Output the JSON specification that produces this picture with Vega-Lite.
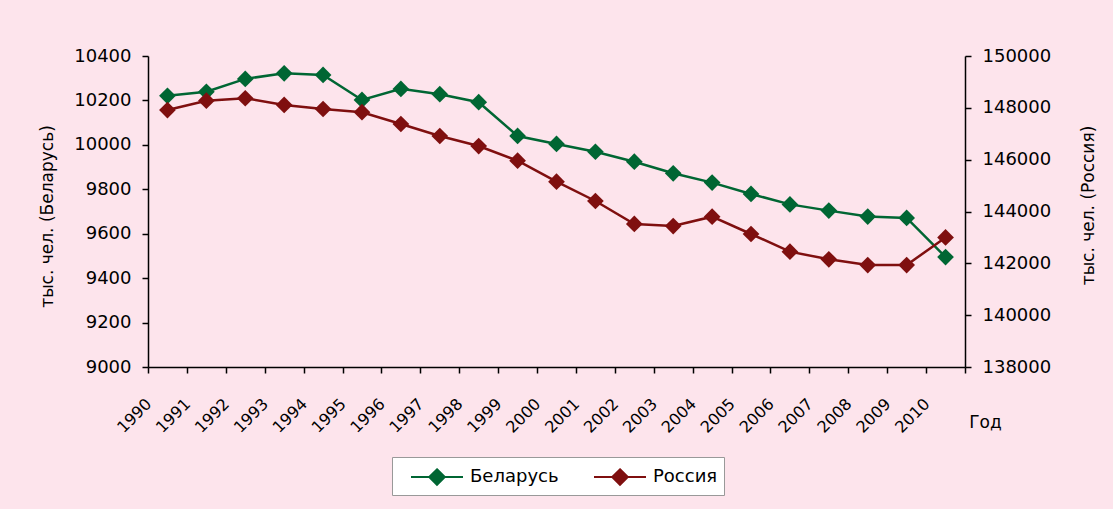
{
  "$schema": "https://vega.github.io/schema/vega-lite/v6.json",
  "width": 817,
  "height": 311,
  "autosize": {"type": "none"},
  "padding": {"left": 148, "top": 56, "right": 148, "bottom": 142},
  "background": "#FDE4EC",
  "config": {
    "view": {"stroke": null},
    "font": "DejaVu Sans",
    "axis": {
      "domainColor": "black", "tickColor": "black", "labelColor": "black", "titleColor": "black",
      "grid": false, "domainWidth": 1.5, "tickWidth": 1.5, "labelFontSize": 18, "titleFontSize": 17,
      "titleFontWeight": "normal", "labelFont": "DejaVu Sans", "titleFont": "DejaVu Sans"
    },
    "legend": {"labelFont": "DejaVu Sans"}
  },
  "data": {
    "values": [
      {"year": "1990", "country": "Беларусь", "value": 10221},
      {"year": "1991", "country": "Беларусь", "value": 10239},
      {"year": "1992", "country": "Беларусь", "value": 10297},
      {"year": "1993", "country": "Беларусь", "value": 10322},
      {"year": "1994", "country": "Беларусь", "value": 10315},
      {"year": "1995", "country": "Беларусь", "value": 10202},
      {"year": "1996", "country": "Беларусь", "value": 10252},
      {"year": "1997", "country": "Беларусь", "value": 10228},
      {"year": "1998", "country": "Беларусь", "value": 10192},
      {"year": "1999", "country": "Беларусь", "value": 10040},
      {"year": "2000", "country": "Беларусь", "value": 10004},
      {"year": "2001", "country": "Беларусь", "value": 9969},
      {"year": "2002", "country": "Беларусь", "value": 9924},
      {"year": "2003", "country": "Беларусь", "value": 9872},
      {"year": "2004", "country": "Беларусь", "value": 9830},
      {"year": "2005", "country": "Беларусь", "value": 9779},
      {"year": "2006", "country": "Беларусь", "value": 9732},
      {"year": "2007", "country": "Беларусь", "value": 9704},
      {"year": "2008", "country": "Беларусь", "value": 9677},
      {"year": "2009", "country": "Беларусь", "value": 9671},
      {"year": "2010", "country": "Беларусь", "value": 9495},
      {"year": "1990", "country": "Россия", "value": 147916},
      {"year": "1991", "country": "Россия", "value": 148275},
      {"year": "1992", "country": "Россия", "value": 148370},
      {"year": "1993", "country": "Россия", "value": 148110},
      {"year": "1994", "country": "Россия", "value": 147955},
      {"year": "1995", "country": "Россия", "value": 147830},
      {"year": "1996", "country": "Россия", "value": 147376},
      {"year": "1997", "country": "Россия", "value": 146913},
      {"year": "1998", "country": "Россия", "value": 146527},
      {"year": "1999", "country": "Россия", "value": 145960},
      {"year": "2000", "country": "Россия", "value": 145150},
      {"year": "2001", "country": "Россия", "value": 144405},
      {"year": "2002", "country": "Россия", "value": 143518},
      {"year": "2003", "country": "Россия", "value": 143440},
      {"year": "2004", "country": "Россия", "value": 143800},
      {"year": "2005", "country": "Россия", "value": 143132},
      {"year": "2006", "country": "Россия", "value": 142450},
      {"year": "2007", "country": "Россия", "value": 142155},
      {"year": "2008", "country": "Россия", "value": 141935},
      {"year": "2009", "country": "Россия", "value": 141935},
      {"year": "2010", "country": "Россия", "value": 143000}
    ]
  },
  "encoding": {
    "x": {
      "field": "year", "type": "ordinal",
      "scale": {"type": "band", "paddingInner": 0, "paddingOuter": 0},
      "axis": {
        "title": "Год", "labelAngle": -45, "labelAlign": "right", "labelBaseline": "middle",
        "labelOffset": -19, "tickBand": "extent", "tickSize": 6, "labelPadding": 28,
        "labelFontSize": 16, "titleX": 837, "titleY": 55, "titleAlign": "center",
        "titleBaseline": "middle", "titleFontSize": 17
      }
    },
    "color": {
      "field": "country", "type": "nominal",
      "scale": {"domain": ["Беларусь", "Россия"], "range": ["#006633", "#7F0F0F"]},
      "legend": {
        "title": null, "orient": "none", "legendX": 244, "legendY": 401,
        "direction": "horizontal", "fillColor": "white", "strokeColor": "#999999",
        "padding": 6, "labelFontSize": 18, "labelColor": "black",
        "symbolType": "M-2,0L2,0M0,-0.6L0.6,0L0,0.6L-0.6,0Z",
        "symbolSize": 676, "symbolStrokeWidth": 2, "symbolOffset": 25, "labelOffset": 19,
        "columnPadding": 22
      }
    }
  },
  "layer": [
    {
      "transform": [{"filter": "datum.country === 'Беларусь'"}],
      "mark": {"type": "line", "strokeWidth": 2.5, "point": {"shape": "diamond", "size": 280, "filled": true}},
      "encoding": {
        "y": {
          "field": "value", "type": "quantitative",
          "scale": {"domain": [9000, 10400]},
          "axis": {
            "orient": "left", "title": "тыс. чел. (Беларусь)", "format": "d",
            "values": [9000, 9200, 9400, 9600, 9800, 10000, 10200, 10400],
            "tickSize": 6, "labelPadding": 11,
            "titleX": -101, "titleY": 160, "titleAngle": -90, "titleAlign": "center", "titleBaseline": "middle"
          }
        }
      }
    },
    {
      "transform": [{"filter": "datum.country === 'Россия'"}],
      "mark": {"type": "line", "strokeWidth": 2.5, "point": {"shape": "diamond", "size": 280, "filled": true}},
      "encoding": {
        "y": {
          "field": "value", "type": "quantitative",
          "scale": {"domain": [138000, 150000]},
          "axis": {
            "orient": "right", "title": "тыс. чел. (Россия)", "format": "d",
            "values": [138000, 140000, 142000, 144000, 146000, 148000, 150000],
            "tickSize": 6, "labelPadding": 11,
            "titleX": 123, "titleY": 149, "titleAngle": -90, "titleAlign": "center", "titleBaseline": "middle"
          }
        }
      }
    }
  ],
  "resolve": {"scale": {"y": "independent"}}
}
